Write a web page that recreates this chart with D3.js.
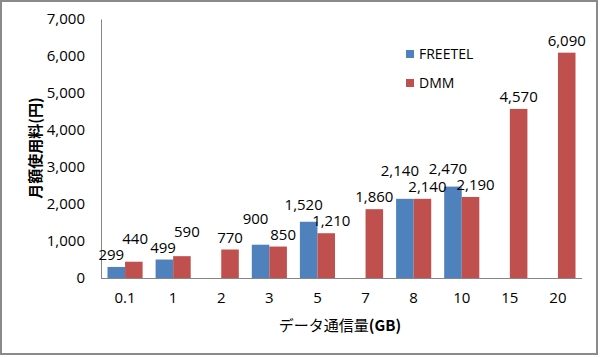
<!DOCTYPE html>
<html><head><meta charset="utf-8">
<script src="https://cdn.jsdelivr.net/npm/d3@7"></script>
<style>body{margin:0;background:#fff}svg{display:block}text{font-family:"Open Sans","Liberation Sans",sans-serif}</style>
</head><body><svg id="c" width="600" height="357"></svg>
<script>
const categories = ["0.1","1","2","3","5","7","8","10","15","20"];
const freetel = [299, 499, null, 900, 1520, null, 2140, 2470, null, null];
const dmm = [440, 590, 770, 850, 1210, 1860, 2140, 2190, 4570, 6090];
const seriesNames = ["FREETEL","DMM"];
const colors = ["#4F81BD","#C0504D"];
const yTicks = [0,1000,2000,3000,4000,5000,6000,7000];

const svg = d3.select("#c");
svg.append("rect").attr("x",1).attr("y",1).attr("width",596).attr("height",353)
  .attr("fill","#fff").attr("stroke","#8a8a8a").attr("stroke-width",2);

const pL=101, pR=582, pT=19, pB=278;
const x = d3.scaleBand().domain(categories).range([pL,pR]).paddingInner(0.27).paddingOuter(0.135);
const xs = d3.scaleBand().domain([0,1]).range([0,x.bandwidth()]);
const y = d3.scaleLinear().domain([0,7000]).range([pB,pT]);
const fmt = d3.format(",");
const FS = 15;

// y axis
const ya = svg.append("g").attr("transform",`translate(${pL},0)`)
  .call(d3.axisLeft(y).tickValues(yTicks).tickFormat(fmt).tickSize(0).tickPadding(16));
ya.select(".domain").attr("stroke","#868686");
ya.selectAll("text").attr("font-size",FS).attr("fill","#000").style("font-family","'Open Sans',sans-serif");

// x axis
const xa = svg.append("g").attr("transform",`translate(0,${pB})`)
  .call(d3.axisBottom(x).tickSize(0).tickPadding(14));
xa.select(".domain").attr("stroke","#868686").attr("d",`M${pL},0.5H${pR}`);
xa.selectAll("text").attr("font-size",FS).attr("fill","#000").style("font-family","'Open Sans',sans-serif");

const all = [freetel, dmm];
const barLayer = svg.append("g");
const labelLayer = svg.append("g");
const labels = [];
all.forEach((vals,si)=>{
  const data = categories.map((c,i)=>({c,i,v:vals[i]})).filter(d=>d.v!=null);
  barLayer.append("g").selectAll("rect").data(data).join("rect")
    .attr("x",d=>x(d.c)+xs(si)).attr("width",xs.bandwidth())
    .attr("y",d=>y(d.v)).attr("height",d=>pB-y(d.v)).attr("fill",colors[si]);
  data.forEach(d=>{
    const cx = x(d.c)+xs(si)+xs.bandwidth()/2;
    const t = labelLayer.append("text").attr("x",cx).attr("y",y(d.v)-7)
      .attr("text-anchor","middle").attr("font-size",FS).attr("fill","#000")
      .text(fmt(d.v));
    labels.push({t,si,i:d.i,v:d.v,cx,by:y(d.v)-7,w:t.node().getComputedTextLength()});
  });
});
const ASC = 11, DESC = 4, GAP = 2;
const overlap = (a,b) =>
  Math.abs(a.cx-b.cx) < (a.w+b.w)/2 + GAP &&
  a.by-ASC < b.by+DESC+1 && b.by-ASC < a.by+DESC+1;
// phase A: inside a category, spread a little, then lift the higher label
categories.forEach((c,i)=>{
  const a = labels.find(l=>l.i===i&&l.si===0), b = labels.find(l=>l.i===i&&l.si===1);
  if(!a||!b||!overlap(a,b)) return;
  const need = (a.w+b.w)/2 + GAP - (b.cx-a.cx);
  const s = Math.min(need/2, 5);
  a.cx -= s; b.cx += s;
  if(overlap(a,b)){
    const up = a.v>=b.v ? a : b, other = up===a ? b : a;
    up.by = other.by - (ASC+DESC+1);
  }
});
// phase B: horizontal relaxation for remaining collisions
for(let it=0; it<60; it++){
  let moved=false;
  for(let p=0;p<labels.length;p++) for(let q=p+1;q<labels.length;q++){
    const a=labels[p], b=labels[q];
    if(!overlap(a,b)) continue;
    const [l,r] = a.cx<=b.cx ? [a,b] : [b,a];
    const need = (l.w+r.w)/2 + GAP - (r.cx-l.cx);
    l.cx -= need/2 + 0.1; r.cx += need/2 + 0.1;
    moved=true;
  }
  if(!moved) break;
}
labels.forEach(l=>l.t.attr("x",l.cx).attr("y",l.by));

// legend
seriesNames.forEach((n,i)=>{
  const ly = 54 + i*29;
  svg.append("rect").attr("x",406).attr("y",ly-4).attr("width",8).attr("height",8).attr("fill",colors[i]);
  svg.append("text").attr("x",419).attr("y",ly).attr("dy","0.35em").attr("font-size",14).text(n);
});

// axis titles
svg.append("text").attr("transform","translate(41,148) rotate(-90)").attr("text-anchor","middle")
  .attr("font-size",15).attr("font-weight","bold").style("font-family","'Noto Sans CJK JP',sans-serif").text("月額使用料(円)");
const xt = svg.append("text").attr("x",340).attr("y",331).attr("text-anchor","middle")
  .attr("font-size",15).style("font-family","'Noto Sans CJK JP',sans-serif");
xt.append("tspan").text("データ通信量");
xt.append("tspan").attr("font-weight","bold").text("(GB)");
</script></body></html>
